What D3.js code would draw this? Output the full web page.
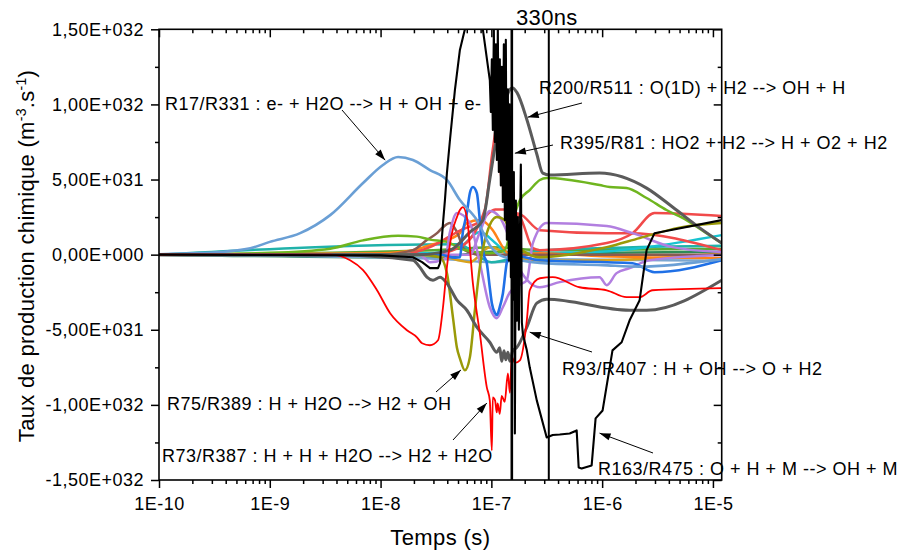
<!DOCTYPE html>
<html><head><meta charset="utf-8">
<script src="https://cdn.jsdelivr.net/npm/d3@7"></script>
<style>
body{margin:0;background:#fff;}
svg{display:block;font-family:"Liberation Sans",Arial,Helvetica,sans-serif;}
</style></head><body>
<svg id="c" width="908" height="551"></svg>
<script>
// ---------- DATA (time in s, value in units of 1E+031 m-3.s-1) ----------
const xTickValues = [1e-10, 1e-9, 1e-8, 1e-7, 1e-6, 1e-5];
const xTickLabels = ["1E-10", "1E-9", "1E-8", "1E-7", "1E-6", "1E-5"];
const yTickValues = [-15, -10, -5, 0, 5, 10, 15];
const yTickLabels = ["-1,50E+032", "-1,00E+032", "-5,00E+031", "0,00E+000", "5,00E+031", "1,00E+032", "1,50E+032"];
const yMinorValues = [-12.5, -7.5, -2.5, 2.5, 7.5, 12.5];
const refLines = [1.53e-7, 3.3e-7];
const refLabel = "330ns";

const bundleA = [[1e-10,0],[3e-8,0.3],[1e-7,0.5],[3e-7,0.3],[1.2e-5,0.4]];
const bundleB = [[1e-10,0],[3e-8,-0.2],[1e-7,0.2],[3e-7,0.1],[1.2e-5,0.2]];
const bundleC = [[1e-10,0],[4e-8,-0.3],[1e-7,-0.5],[2.74e-7,-0.3],[1.2e-5,-0.4]];
const bundleD = [[1e-10,0],[5e-8,0.7],[1e-7,-0.5],[3e-7,0.3],[1.2e-5,0.6]];
const gold = [[1e-10,0],[3e-8,0],[6.4e-8,-0.5],[9.68e-8,0.5],[1.47e-7,0],[2.74e-7,-0.4],[1.1e-6,-0.37],[1.2e-5,0.1]];
const cyan = [[1e-10,0],[2.79e-8,0.1],[5.2e-8,0.5],[7.87e-8,1.5],[1.08e-7,0.8],[1.47e-7,0],[2.74e-7,0.1],[9.48e-7,0.2],[2.52e-6,0.5],[1.2e-5,1.3]];
const orange = [[1e-10,0],[1e-8,0.1],[1.96e-8,0.3],[2.79e-8,0.63],[3.97e-8,0.97],[5.2e-8,1.43],[6.01e-8,2.1],[7.87e-8,2.3],[1.03e-7,1.63],[1.27e-7,0.5],[1.47e-7,0],[2.74e-7,0.1],[1e-6,-0.1],[1.2e-5,-0.23]];
const brown = [[1e-10,0],[1e-8,0],[1.96e-8,0.3],[2.62e-8,0.97],[3.23e-8,1.43],[3.66e-8,1.83],[4.23e-8,2.1],[4.89e-8,1.5],[5.77e-8,0.3],[7.87e-8,0],[1.2e-5,0]];
const salmonA = [[1e-10,0],[2.79e-8,0],[5.2e-8,0.5],[8.73e-8,3],[1.03e-7,7],[1.12e-7,8.5],[1.19e-7,6],[1.32e-7,4],[1.47e-7,2.8],[1.81e-7,2.7],[2.74e-7,1.63],[1.1e-6,1.43],[1.77e-6,1.43],[1.2e-5,0.3]];
const salmonB = [[1e-10,0],[1.5e-8,0],[2.79e-8,0.5],[5.2e-8,1.6],[7.87e-8,2.2],[1.08e-7,3],[1.32e-7,3.0],[1.81e-7,2.5],[2.37e-7,0.43],[2.74e-7,0.3],[1.1e-6,0.77],[1.88e-6,1.43],[2.97e-6,2.77],[1.2e-5,2.57]];
const green = [[1e-10,0],[1e-9,0.12],[3.51e-9,0.4],[6.95e-9,0.95],[1.44e-8,1.25],[2.13e-8,1.2],[2.79e-8,1.0],[3.97e-8,0.85],[5.77e-8,0.3],[9.68e-8,0.1],[1.32e-7,0.3],[1.56e-7,2.3],[1.81e-7,3.63],[2.22e-7,4.3],[2.74e-7,4.97],[3.16e-7,5.1],[9.48e-7,4.63],[1.17e-6,4.5],[1.66e-6,4.43],[2.52e-6,3.77],[3.81e-6,2.97],[5.77e-6,2.3],[8.73e-6,1.43],[1.2e-5,0.77]];
const purpleA = [[1e-10,0],[2.26e-8,0],[2.79e-8,-0.5],[3.81e-8,-0.3],[4.23e-8,1.5],[4.89e-8,2.77],[6.4e-8,2.1],[7.87e-8,-0.57],[9.68e-8,-3.5],[1.12e-7,-4.23],[1.27e-7,-3.5],[1.47e-7,-2.5],[1.81e-7,-2.0],[2.09e-7,-1.7],[2.37e-7,0.77],[3.16e-7,2.1],[1.1e-6,1.9],[1.88e-6,1.43],[4.32e-6,0.5],[1.2e-5,0.17]];
const purpleB = [[1e-10,0],[6.4e-8,0],[7.87e-8,1.5],[9.68e-8,2.9],[1.19e-7,2.5],[1.47e-7,1.0],[1.81e-7,-1.0],[2.74e-7,-2.17],[4.14e-7,-1.83],[9.48e-7,-1.5],[1.1e-6,-2.03],[1.35e-6,-1.23],[1.77e-6,-0.9],[2.68e-6,-0.37],[1.2e-5,-0.03]];
const blue = [[1e-10,0],[3.44e-8,0],[4.69e-8,-0.2],[5.2e-8,-0.17],[5.53e-8,1.5],[6.01e-8,2.77],[6.4e-8,4.1],[6.81e-8,4.5],[7.4e-8,4.1],[7.87e-8,2.3],[8.55e-8,0],[9.1e-8,-0.57],[9.68e-8,-2.2],[1.01e-7,-3.23],[1.08e-7,-3.9],[1.12e-7,-4.03],[1.19e-7,-3.5],[1.27e-7,-2.6],[1.38e-7,-0.5],[1.47e-7,0],[2.74e-7,-0.37],[1.88e-6,-0.57],[2.97e-6,-1.17],[1.2e-5,-0.37]];
const olive = [[1e-10,0],[2.26e-8,0],[3.44e-8,-0.17],[3.97e-8,-1.23],[4.5e-8,-4.17],[4.89e-8,-6.2],[5.2e-8,-6.9],[5.77e-8,-7.7],[6.4e-8,-6.83],[7.1e-8,-3.7],[7.87e-8,-0.83],[9.1e-8,1.43],[1.12e-7,2.5],[1.32e-7,2.3],[1.56e-7,0.97],[2.09e-7,0.1],[2.74e-7,-0.17],[1.1e-6,0.5],[2.18e-6,1.1],[4.99e-6,1.8],[1.2e-5,2.1]];
const r17 = [[1e-10,0.03],[2.37e-10,0.1],[6.67e-10,0.43],[1e-9,0.85],[1.88e-9,1.43],[3.51e-9,2.63],[6.95e-9,4.77],[1.05e-8,5.97],[1.44e-8,6.5],[1.96e-8,6.3],[2.79e-8,5.63],[3.97e-8,4.97],[5.2e-8,3.63],[7.4e-8,2.3],[9.68e-8,0.63],[1.19e-7,-0.03],[1.81e-7,-0.37],[2.74e-7,-0.55],[1e-6,-0.7],[2.18e-6,-0.8],[1.2e-5,-0.3]];
const grayA = [[1e-10,0],[2.26e-8,0],[4.23e-8,0.3],[6.4e-8,1.5],[8.38e-8,2.3],[9.68e-8,5],[1.08e-7,7.2],[1.27e-7,9.5],[1.47e-7,11],[1.56e-7,11.1],[1.7e-7,10.8],[2.09e-7,9],[2.57e-7,6.7],[2.91e-7,5.43],[3.37e-7,5.3],[9.48e-7,5.43],[2.52e-6,4.43],[4.32e-6,3.17],[7.55e-6,1.8],[1.2e-5,0.77]];
const grayB = [[1e-10,0],[3.51e-9,0],[1.96e-8,-0.37],[2.26e-8,-0.83],[2.62e-8,-1.5],[2.97e-8,-1.7],[3.44e-8,-1.5],[3.97e-8,-1.9],[4.89e-8,-3.03],[6.01e-8,-3.7],[7.4e-8,-4.83],[9.68e-8,-5.83],[1.12e-7,-6.5],[1.19e-7,-6.2],[1.24e-7,-7.1],[1.3e-7,-6.4],[1.35e-7,-7.0],[1.41e-7,-6.5],[1.47e-7,-7.1],[1.56e-7,-6.4],[1.7e-7,-6.17],[2.09e-7,-4.83],[2.57e-7,-3.23],[3.16e-7,-2.97],[1.77e-6,-3.7],[2.52e-6,-3.7],[1.2e-5,-1.7]];
const redThin = [[1e-10,0],[3.51e-9,0],[5.31e-9,-0.37],[6.95e-9,-1.03],[9.29e-9,-2.37],[1.22e-8,-3.9],[1.73e-8,-5.03],[2.13e-8,-5.5],[2.37e-8,-5.9],[2.79e-8,-6.03],[3.3e-8,-5.7],[3.66e-8,-3.5],[3.97e-8,-0.83],[4.41e-8,1.43],[4.89e-8,2.5],[5.2e-8,2.97],[5.53e-8,3.17],[6.01e-8,2.5],[6.81e-8,-1.9],[7.87e-8,-5.23],[9.1e-8,-8.83],[9.68e-8,-9.7],[1.01e-7,-13.03],[1.03e-7,-9.5],[1.08e-7,-9.7],[1.12e-7,-10.5],[1.14e-7,-9.9],[1.19e-7,-10.6],[1.24e-7,-9.4],[1.32e-7,-9.8],[1.41e-7,-7.9],[1.47e-7,-9.2],[1.53e-7,-6.8],[1.63e-7,-7.2],[1.81e-7,-7.03],[2.09e-7,-4.37],[2.22e-7,-2.37],[2.74e-7,-1.57],[3.58e-7,-1.5],[6.26e-7,-2.17],[1.1e-6,-2.37],[1.66e-6,-2.83],[2.18e-6,-2.83],[2.85e-6,-2.37],[1.2e-5,-2.23]];
const blackT = [1e-10,1e-8,1.96e-8,2.37e-8,2.79e-8,3.3e-8,3.44e-8,3.66e-8,3.81e-8,3.97e-8,4.23e-8,4.69e-8,5.2e-8,5.77e-8,6.4e-8,7.4e-8,8.38e-8,9.69e-8,
  9.89e-8,1.01e-7,1.031e-7,1.053e-7,1.075e-7,1.098e-7,1.121e-7,1.144e-7,1.168e-7,1.193e-7,1.218e-7,1.244e-7,1.27e-7,1.296e-7,1.324e-7,1.351e-7,1.38e-7,1.409e-7,1.438e-7,1.469e-7,1.5e-7,1.531e-7,1.563e-7,1.596e-7,1.63e-7,1.664e-7,1.699e-7,1.735e-7,1.771e-7,1.808e-7,1.846e-7,1.885e-7,1.925e-7,
  2.09e-7,2.22e-7,2.57e-7,3.16e-7,3.58e-7,4.14e-7,5.09e-7,5.89e-7,6.14e-7,6.53e-7,8.04e-7,8.73e-7,1.01e-6,1.24e-6,1.5e-6,1.77e-6,2.18e-6,2.52e-6,2.97e-6,1.2e-5];
const blackV = [0,-0.05,-0.17,-0.5,-0.9,-0.9,-0.57,2.1,3.63,5.43,7.63,10.97,13.63,15.0,15.6,15.6,15.0,11.6,
  9.5,13,8.3,15,7.5,14,6.3,15,5.5,13,4.6,12.5,3.5,14,2.3,14.3,1.0,11,-0.4,10,-1.5,7,-3,5.5,-11.9,3.6,-4.4,2.5,-5,1,6,-4.5,-5.3,
  -6.37,-7.5,-9.7,-12.17,-12.0,-11.97,-11.9,-11.7,-14.17,-14.23,-14.03,-10.9,-10.37,-6.37,-5.83,-4.37,-3.03,0.3,1.43,2.3];

const annotationTexts = [
  "R17/R331 : e- + H2O --> H + OH + e-",
  "R200/R511 : O(1D) + H2 --> OH + H",
  "R395/R81 : HO2 + H2 --> H + O2 + H2",
  "R93/R407 : H + OH --> O + H2",
  "R163/R475 : O + H + M --> OH + M",
  "R75/R389 : H + H2O --> H2 + OH",
  "R73/R387 : H + H + H2O --> H2 + H2O"
];
// arrow tips in data coordinates (time, value)
const annotationTargets = [[1.1e-8,6.29],[2.13e-7,9.15],[1.63e-7,6.75],[2.22e-7,-5.16],[9.48e-7,-11.88],[5.31e-8,-7.68],[9.1e-8,-9.88]];

// ---------- LAYOUT ----------
const L = 159, R = 721.7, T = 29.3, B = 480;
const svg = d3.select("#c");
const x = d3.scaleLog().domain([1e-10, 1.2e-5]).range([L, R]);
const y = d3.scaleLinear().domain([-15, 15]).range([B, T]);

const FONT = 18, LS = "0.5px";

svg.append("defs").append("clipPath").attr("id","clip")
  .append("rect").attr("x",L).attr("y",T).attr("width",R-L).attr("height",B-T);

const plot = svg.append("g").attr("clip-path","url(#clip)");

const series = [
  {d:bundleA, c:"#5aa832", w:2.5},
  {d:bundleB, c:"#2e8b57", w:2.5},
  {d:bundleC, c:"#7aa6d0", w:2.5},
  {d:bundleD, c:"#20b2aa", w:2.5},
  {d:gold, c:"#d9a21b", w:2.5},
  {d:cyan, c:"#18c3d0", w:2.5},
  {d:orange, c:"#ff8218", w:2.5},
  {d:brown, c:"#8b5a50", w:2.5},
  {d:salmonB, c:"#f14a4a", w:2.5},
  {d:salmonA, c:"#f14a4a", w:2.5},
  {d:green, c:"#6fb51f", w:2.5},
  {d:purpleB, c:"#b27fe0", w:2.5},
  {d:purpleA, c:"#b27fe0", w:2.5},
  {d:blue, c:"#1f70e6", w:2.6},
  {d:olive, c:"#9a9a08", w:2.5},
  {d:r17, c:"#6a9fd5", w:2.6},
  {d:grayA, c:"#5b5b5b", w:3},
  {d:grayB, c:"#5b5b5b", w:3},
  {d:redThin, c:"#ff0000", w:1.8}
];
const lineGen = d3.line().x(d=>x(d[0])).y(d=>y(d[1])).curve(d3.curveMonotoneX);
series.forEach(s=>{
  plot.append("path").datum(s.d).attr("d",lineGen).attr("fill","none")
    .attr("stroke",s.c).attr("stroke-width",s.w).attr("stroke-linejoin","round").attr("stroke-linecap","round");
});
const blackData = blackT.map((t,i)=>[t, blackV[i]]);
plot.append("path").datum(blackData)
  .attr("d", d3.line().x(d=>x(d[0])).y(d=>y(d[1])).curve(d3.curveLinear))
  .attr("fill","none").attr("stroke","#000").attr("stroke-width",2.1).attr("stroke-linejoin","round");

// reference vertical lines
svg.selectAll("line.ref").data(refLines).join("line").attr("class","ref")
  .attr("x1",d=>x(d)).attr("x2",d=>x(d)).attr("y1",T).attr("y2",B)
  .attr("stroke","#000").attr("stroke-width",(d,i)=>i===0?2.6:2);
svg.append("text").attr("x",x(refLines[1])-2).attr("y",25).attr("text-anchor","middle")
  .attr("font-size",22).style("letter-spacing","0.3px").text(refLabel);

// ---------- AXES ----------
const minorX = [];
for (let e=-10; e<=-5; e++) for (let k=2; k<=9; k++){ const v=k*Math.pow(10,e); if (v<=1.2e-5) minorX.push(v); }
const fmtX = d => xTickLabels[xTickValues.indexOf(d)];
const fmtY = d => yTickLabels[yTickValues.indexOf(d)];

function styleAxis(g){ g.select(".domain").remove(); g.selectAll("line").attr("stroke","#000").attr("stroke-width",1.5);
  g.selectAll("text").attr("font-size",FONT).attr("fill","#000").style("letter-spacing",LS).attr("font-family",null); }

svg.append("g").attr("transform",`translate(0,${B})`)
  .call(d3.axisBottom(x).tickValues(xTickValues).tickFormat(fmtX).tickSize(8).tickPadding(9)).call(styleAxis);
svg.append("g").attr("transform",`translate(0,${B})`)
  .call(d3.axisBottom(x).tickValues(minorX).tickFormat("").tickSize(4)).call(styleAxis);
svg.append("g").attr("transform",`translate(0,${T})`)
  .call(d3.axisBottom(x).tickValues(xTickValues).tickFormat("").tickSize(8)).call(styleAxis);
svg.append("g").attr("transform",`translate(0,${T})`)
  .call(d3.axisBottom(x).tickValues(minorX).tickFormat("").tickSize(4)).call(styleAxis);

svg.append("g").attr("transform",`translate(${L},0)`)
  .call(d3.axisLeft(y).tickValues(yTickValues).tickFormat(fmtY).tickSize(8).tickPadding(7)).call(styleAxis);
svg.append("g").attr("transform",`translate(${L},0)`)
  .call(d3.axisLeft(y).tickValues(yMinorValues).tickFormat("").tickSize(4)).call(styleAxis);
svg.append("g").attr("transform",`translate(${R},0)`)
  .call(d3.axisLeft(y).tickValues(yTickValues).tickFormat("").tickSize(8)).call(styleAxis);
svg.append("g").attr("transform",`translate(${R},0)`)
  .call(d3.axisLeft(y).tickValues(yMinorValues).tickFormat("").tickSize(4)).call(styleAxis);

svg.append("rect").attr("x",L).attr("y",T).attr("width",R-L).attr("height",B-T)
  .attr("fill","none").attr("stroke","#000").attr("stroke-width",1.6);

// axis titles
svg.append("text").attr("x",(L+R)/2).attr("y",545).attr("text-anchor","middle")
  .attr("font-size",22).style("letter-spacing","0.4px").text("Temps (s)");
const yt = svg.append("text").attr("transform","translate(34,256) rotate(-90)").attr("text-anchor","middle")
  .attr("font-size",22).style("letter-spacing","0.3px");
yt.append("tspan").text("Taux de production chimique (m");
yt.append("tspan").attr("font-size",14).attr("baseline-shift","super").text("-3");
yt.append("tspan").text(".s");
yt.append("tspan").attr("font-size",14).attr("baseline-shift","super").text("-1");
yt.append("tspan").text(")");

// ---------- ANNOTATIONS ----------
const annoLayout = [
  {tx:165, ty:110, fx:342, fy:110},
  {tx:539, ty:94,  fx:582, fy:103},
  {tx:560, ty:149, fx:553, fy:145},
  {tx:562, ty:375, fx:592, fy:352},
  {tx:598, ty:475, fx:653, fy:453},
  {tx:167, ty:410, fx:436, fy:392},
  {tx:162, ty:462, fx:453, fy:440}
];
const ag = svg.append("g");
annotationTexts.forEach((txt,i)=>{
  const a = annoLayout[i];
  const tgt = annotationTargets[i];
  const px = x(tgt[0]), py = y(tgt[1]);
  ag.append("line").attr("x1",a.fx).attr("y1",a.fy).attr("x2",px).attr("y2",py)
    .attr("stroke","#000").attr("stroke-width",1);
  const ang = Math.atan2(py-a.fy, px-a.fx);
  const len = 11, hw = 3.6;
  const bx = px - len*Math.cos(ang), by = py - len*Math.sin(ang);
  const pts = [[px,py],[bx - hw*Math.sin(ang), by + hw*Math.cos(ang)],[bx + hw*Math.sin(ang), by - hw*Math.cos(ang)]];
  ag.append("polygon").attr("points",pts.map(p=>p.join(",")).join(" ")).attr("fill","#000");
  ag.append("text").attr("x",a.tx).attr("y",a.ty).attr("font-size",FONT)
    .style("letter-spacing",LS).text(txt);
});
</script></body></html>
